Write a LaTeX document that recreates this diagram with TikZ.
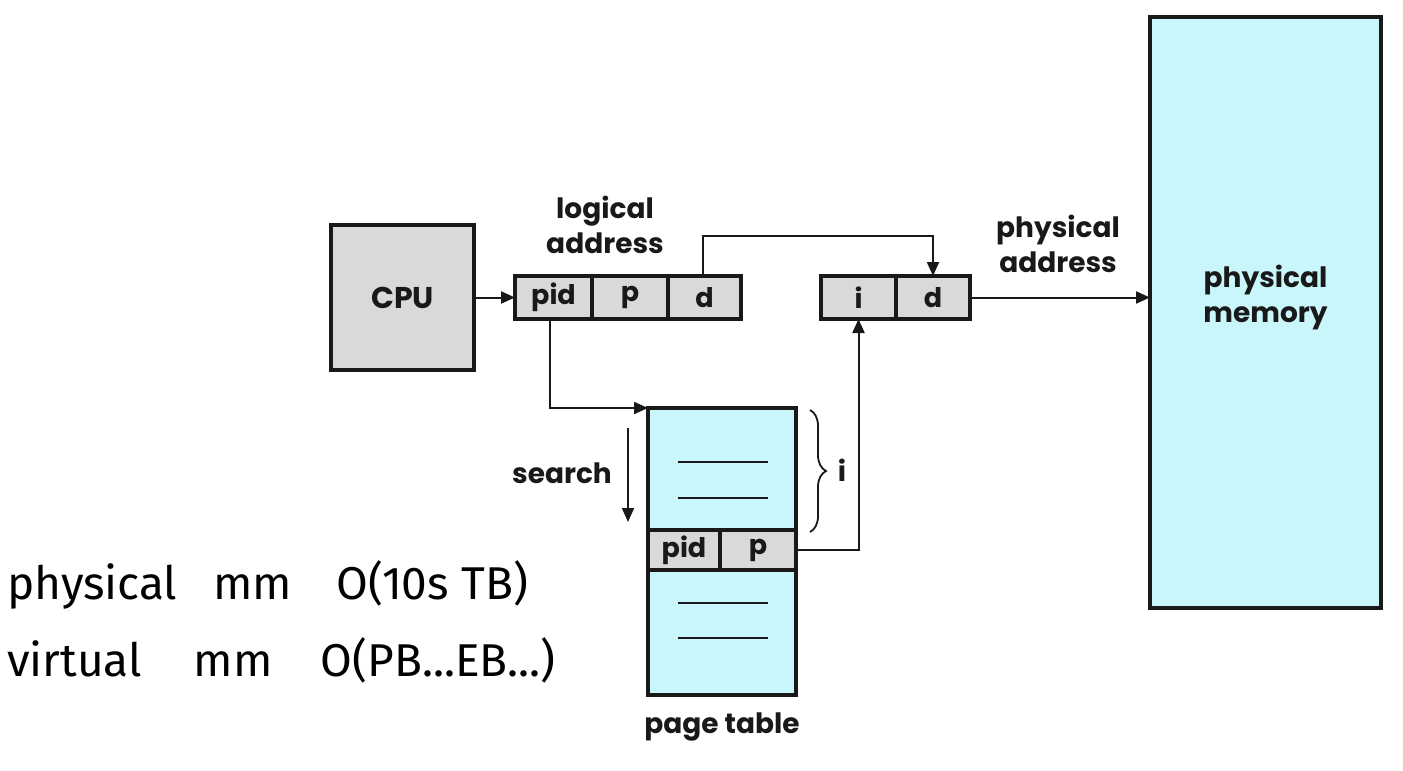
\documentclass[tikz,border=0pt]{standalone}
\usepackage{fontspec}
\setmainfont{Poppins}
\newfontfamily\handfont{Fira Sans}
\usetikzlibrary{arrows.meta,decorations.pathreplacing}

\definecolor{cellgray}{RGB}{217,217,217}
\definecolor{memcyan}{RGB}{200,246,251}
\definecolor{inkblack}{RGB}{25,25,25}

\tikzset{
    cell/.style={draw=inkblack, line width=2pt, fill=cellgray, inner sep=0pt, outer sep=0pt,
        minimum height=21.5pt, font=\fontsize{13.5}{16}\selectfont\bfseries, text=inkblack},
    tablebox/.style={draw=inkblack, line width=2pt, fill=memcyan, inner sep=0pt, outer sep=0pt,
        minimum width=74pt},
    lbl/.style={align=center, font=\fontsize{14}{17.5}\selectfont\bfseries, text=inkblack},
    hand/.style={anchor=west, font=\handfont\fontsize{23}{26}\selectfont, text=black},
    link/.style={line width=1pt, draw=inkblack}
}

\begin{document}
\begin{tikzpicture}[x=0.5pt, y=-0.5pt, >={Triangle[length=7pt,width=6pt]}]
    \useasboundingbox (0,0) rectangle (1403,771);

    % cpu and address registers
    \node[cell, minimum width=71.5pt, minimum height=72.5pt, font=\fontsize{15}{18}\selectfont\bfseries] (cpu) at (402.5,297.5) {CPU};
    \node[cell, minimum width=38.5pt] (lpid) at (553.5,297.5) {pid};
    \node[cell, minimum width=38pt] (lp) at (630,297.5) {p};
    \node[cell, minimum width=36.5pt] (ld) at (704.5,297.5) {d};
    \node[cell, minimum width=37.5pt] (pi) at (858.5,297.5) {i};
    \node[cell, minimum width=37pt] (pd) at (933,297.5) {d};
    \node[lbl] (logaddr) at (605,225) {logical\\address};
    \node[lbl] (physaddr) at (1058,244) {physical\\address};

    % memory
    \node[tablebox, minimum width=115.5pt, minimum height=295.5pt] (mem) at (1265.5,312.5) {};
    \node[lbl] (memlabel) at (1265.5,297) {physical\\memory};

    % page table
    \node[tablebox, minimum height=61pt] (ptop) at (722,469) {};
    \node[cell, minimum width=36pt, minimum height=20pt] (tpid) at (684,550) {pid};
    \node[cell, minimum width=38pt, minimum height=20pt] (tp) at (758,550) {p};
    \node[tablebox, minimum height=62.5pt] (pbot) at (722,632.5) {};
    \node[lbl] (ptlabel) at (722,727) {page table};
    \foreach \y in {462,498,603,638}
        \draw[inkblack, line width=1.2pt] (678,\y) -- (768,\y);

    % connectors
    \draw[link,->] (cpu) -- (lpid);
    \draw[link,->] (ld.north) ++(-2,0) -- ++(0,-40) -| (pd.north);
    \draw[link,->] (pd.east) -- (pd.east -| mem.west);
    \draw[link,->] (lpid.south) ++(-4,0) |- (ptop.north west);
    \draw[link,->] (tp.east) -| (pi.south);

    % search
    \coordinate (stop) at (628,428);
    \coordinate (sbot) at (628,522);
    \draw[link,->] (stop) -- (sbot);
    \node[lbl] (search) at (562,473) {search};

    % brace
    \coordinate (btop) at (810,410);
    \coordinate (bbot) at (810,532);
    \draw[inkblack, line width=0.9pt, decorate, decoration={brace, amplitude=8pt}] (btop) -- (bbot);
    \node[lbl] (bi) at (842,470) {i};

    % notes
    \node[hand] (n1) at (0,585) {physical\hspace{18pt}mm\hspace{22pt}O(10s TB)};
    \node[hand] (n2) at (0,660) {virtual\hspace{26pt}mm\hspace{24pt}O(PB...EB...)};
\end{tikzpicture}
\end{document}
